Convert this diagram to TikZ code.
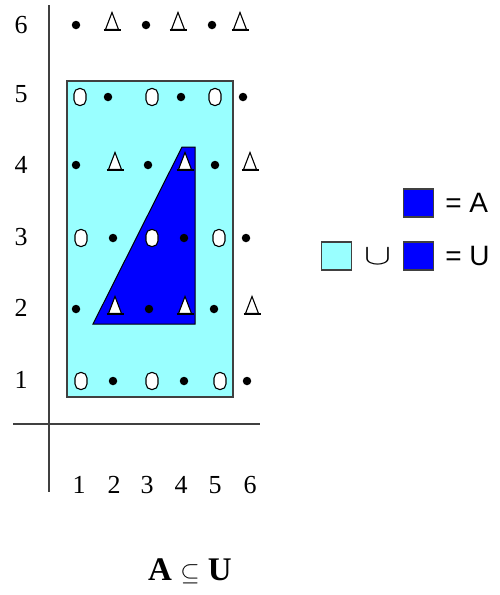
\documentclass[tikz,border=0pt]{standalone}
\usepackage{fontspec}
\setmainfont{Liberation Serif}
\newfontfamily\legendfont{Liberation Sans}
\usepackage{tikz}
\usetikzlibrary{positioning,shapes.geometric}
\definecolor{SetCyan}{HTML}{99FFFF}
\definecolor{SetBlue}{HTML}{0000FF}
\definecolor{AxisGray}{HTML}{404040}

\begin{document}
\begin{tikzpicture}[x=1pt,y=-1pt,node distance=10pt,
  dotmark/.style={circle,fill=black,inner sep=0pt,minimum size=8.5pt},
  ovalmark/.style={draw=black,fill=white,line width=1.1pt,rounded corners=5.5pt,
        inner sep=0pt,minimum width=12pt,minimum height=17pt},
  trimark/.style={isosceles triangle,isosceles triangle stretches,
        shape border rotate=90,draw=black,fill=white,
        line width=1.1pt,inner sep=0pt,minimum width=13pt,minimum height=17pt},
  basebar/.style={line width=1.1pt,black},
  axislabel/.style={font=\fontsize{26}{26}\selectfont,inner sep=0pt},
  keybox/.style={draw=AxisGray,line width=1.3pt,minimum width=30pt,
        minimum height=28pt,inner sep=0pt},
  keytext/.style={font=\legendfont\fontsize{28}{28}\selectfont,inner sep=0pt}]
  \useasboundingbox (0,0) rectangle (500,595);
  % the universe U and the subset A
  \draw[fill=SetCyan,draw=AxisGray,line width=1.3pt] (67,81) rectangle (233,397);
  \draw[fill=SetBlue,draw=black,line width=1pt]
        (93,324) -- (182,147) -- (195,147) -- (195,324) -- cycle;
  % axes
  \draw[AxisGray,line width=2pt] (49,5) -- (49,492);
  \draw[AxisGray,line width=2pt] (13,424) -- (260,424);
  \foreach \n/\y in {6/25,5/94,4/165,3/237,2/308,1/380}
    \node[axislabel] (ylab-\n) at (21,\y) {\n};
  \foreach \n/\x in {1/79,2/114,3/147,4/181,5/215,6/250}
    \node[axislabel] (xlab-\n) at (\x,485) {\n};
  % rows with dots and triangles
  \foreach \r/\y/\da/\db/\dc/\ta/\tb/\tc in
      {6/25/76/146/212/112/178/240, 4/165/76/148/215/115/185/250,
       2/309/76/149/214/115/185/252} {
    \node[dotmark] (dot\r-1) at (\da,\y) {};
    \node[dotmark] (dot\r-2) at (\db,\y) {};
    \node[dotmark] (dot\r-3) at (\dc,\y) {};
    \foreach \x [count=\i] in {\ta,\tb,\tc} {
      \node[trimark] (tri\r-\i) at (\x,\y) {};
      \draw[basebar] ([xshift=-8.5pt]tri\r-\i.south) -- ([xshift=8.5pt]tri\r-\i.south);
    }
  }
  % rows with ovals and dots
  \foreach \r/\y/\oa/\ob/\oc/\da/\db/\dc in
      {5/97/80/152/215/108/181/243, 3/238/81/152/219/113/184/246,
       1/381/81/152/220/113/184/247} {
    \node[ovalmark] (oval\r-1) at (\oa,\y) {};
    \node[ovalmark] (oval\r-2) at (\ob,\y) {};
    \node[ovalmark] (oval\r-3) at (\oc,\y) {};
    \node[dotmark] (dot\r-1) at (\da,\y) {};
    \node[dotmark] (dot\r-2) at (\db,\y) {};
    \node[dotmark] (dot\r-3) at (\dc,\y) {};
  }
  % legend
  \node[keybox,fill=SetBlue] (keyA) at (418.5,203) {};
  \node[keytext,right=11pt of keyA] (eqA) {= A};
  \node[keybox,fill=SetBlue] (keyU) at (418.5,256) {};
  \node[keytext,right=11pt of keyU] (eqU) {= U};
  \node[inner sep=0pt,left=11pt of keyU] (cupU) {\resizebox{27pt}{16pt}{$\cup$}};
  \node[keybox,fill=SetCyan,left=12pt of cupU] (keyC) {};
  % caption
  \node[font=\bfseries\fontsize{33}{33}\selectfont] (caption) at (190,571)
        {A $\subseteq$ U};
\end{tikzpicture}
\end{document}
